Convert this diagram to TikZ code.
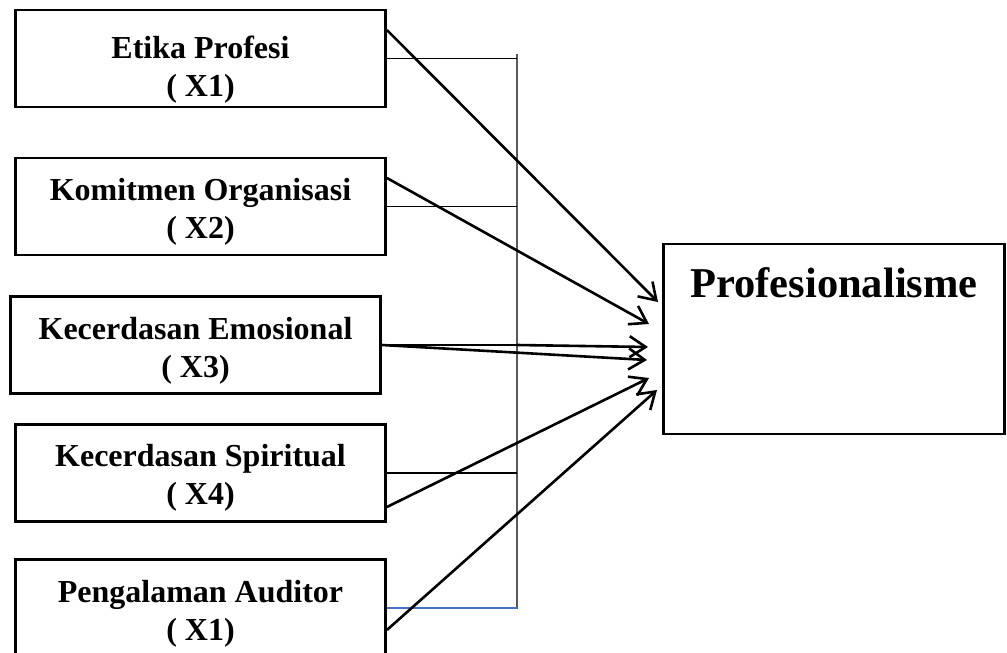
\documentclass[tikz,border=0pt]{standalone}
\usepackage{fontspec}
\setmainfont{Liberation Serif}
\usetikzlibrary{arrows.meta}

\definecolor{lineblue}{RGB}{68,114,196}

\begin{document}
\begin{tikzpicture}[->,>={Straight Barb[length=16pt,width=21pt]},x=1pt,y=-1pt,
                    main node/.style={rectangle,draw,line width=2.8pt,minimum width=370pt,minimum height=97pt,
                      align=center,font=\fontsize{32}{38}\selectfont\bfseries},
                    link/.style={-,line width=1.2pt,black},
                    thick arrow/.style={line width=2.6pt}]
  \useasboundingbox (0,0) rectangle (1007,653);

  \node[main node] (1) at (200.5,58.5) {\rule{0pt}{45pt}Etika Profesi\\( X1)};
  \node[main node] (2) at (200.5,206.5) {\rule{0pt}{33pt}Komitmen Organisasi\\( X2)};
  \node[main node] (3) at (195.5,345) {\rule{0pt}{33pt}Kecerdasan Emosional\\( X3)};
  \node[main node] (4) at (200.5,473) {\rule{0pt}{31pt}Kecerdasan Spiritual\\( X4)};
  \node[main node] (5) at (200.5,608) {\rule{0pt}{33pt}Pengalaman Auditor\\( X1)};
  \node[rectangle,draw,line width=2.8pt,minimum width=341pt,inner ysep=0pt,text height=53pt,text depth=137pt,
        font=\fontsize{42.5}{50}\selectfont\bfseries] (6) at (834,339) {Profesionalisme};

  % collecting line
  \coordinate (top) at (517,54);
  \coordinate (bot) at (517,609);
  \draw[link,black!65,line width=1.8pt] (top) -- (bot);
  \draw[link] (1.east) -- (1.east -| top);
  \draw[link] (2.east) -- (2.east -| top);
  \draw[link] (3.east) -- (3.east -| top);
  \draw[link] (4.east) -- (4.east -| top);
  \draw[link,lineblue,line width=1.6pt] (5.east) -- (5.east -| top);

  % arrow tips in front of the dependent box
  \coordinate (t1) at (658,302);
  \coordinate (t2) at (649,324);
  \coordinate (t3) at (648,347);
  \coordinate (t4) at (647,360);
  \coordinate (t5) at (649,378);
  \coordinate (t6) at (657,390);

  \path[thick arrow]
    ([yshift=28.5pt]1.east) edge (t1)
    ([yshift=28.5pt]2.east) edge (t2)
    (3.east -| top) edge (t3)
    (3.east) edge (t4)
    ([yshift=-34pt]4.east) edge (t5)
    ([yshift=-22pt]5.east) edge (t6);
\end{tikzpicture}
\end{document}
